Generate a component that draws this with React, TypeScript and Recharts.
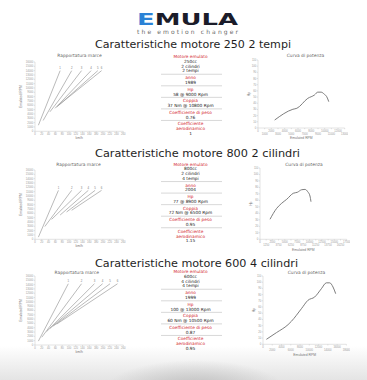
import { Line, LineChart, XAxis, YAxis } from 'recharts'

// shared axes
const gearNames = ['1', '2', '3', '4', '5', '6']
const kmhTicks = [0, 20, 40, 60, 80, 100, 120, 140, 160, 180, 200, 220, 240, 260]
const rpmTicks = [0, 1000, 2000, 3000, 4000, 5000, 6000, 7000, 8000, 9000, 10000, 11000, 12000, 13000, 14000, 15000, 16000]
const hpTicks = [0, 10, 20, 30, 40, 50, 60, 70, 80, 90, 100, 110]

// 250 2 tempi
const gearStartKmh250 = [10, 24, 44, 59, 64, 69]
const gearStartRpm250 = [1400, 2500, 4500, 5300, 5600, 6000]
const gearEndKmh250 = [74, 108, 137, 165, 185, 196]
const redline250 = 14000
const curveRpm250 = [2500, 5230, 5830, 7470, 8470, 8960, 9470, 9960, 10310, 10610]
const curveHp250 = [12.9, 30.3, 31.9, 48, 53.4, 58, 58, 54.5, 50.6, 42.6]
const rpmAxis250 = [0, 1000, 2000, 3000, 4000, 5000, 6000, 7000, 8000, 9000, 10000, 11000, 12000, 13000]

// 800 2 cilindri
const gearStartKmh800 = [10, 29, 49, 74, 93, 108]
const gearStartRpm800 = [500, 2950, 4600, 5600, 6300, 6700]
const gearEndKmh800 = [69, 108, 137, 157, 177, 196]
const redline800 = 11300
const curveRpm800 = [2020, 3370, 4380, 5390, 6720, 7530, 8420, 9080, 9630, 10090, 10290]
const curveHp800 = [30.9, 47.8, 55.6, 61.7, 71, 72.5, 76.5, 77, 73.5, 66.8, 58]
const rpmAxis800 = [0, 1250, 2500, 3750, 5000, 6250, 7500, 8750, 10000, 11250, 12500, 13750, 15000, 16250, 17500]

// 600 4 cilindri
const gearStartKmh600 = [10, 20, 34, 44, 54, 64]
const gearStartRpm600 = [900, 1800, 3100, 3850, 4400, 4850]
const gearEndKmh600 = [98, 137, 175, 199, 221, 243]
const redline600 = 14200
const curveRpm600 = [730, 2890, 5400, 6130, 8290, 9710, 11160, 12600, 13680, 14390, 15110, 15690]
const curveHp600 = [8, 18.7, 31.6, 37, 57.3, 70.9, 76.2, 89.5, 99, 99, 92.3, 81.5]
const rpmAxis600 = [0, 2000, 4000, 6000, 8000, 10000, 12000, 14000, 16000, 18000]

const info250 = [
  { label: ['Motore emulato'], value: ['250cc', '2 cilindri', '2 tempi'] },
  { label: ['anno'], value: ['1989'] },
  { label: ['Hp'], value: ['58 @ 9000 Rpm'] },
  { label: ['Coppia'], value: ['37 Nm @ 10800 Rpm'] },
  { label: ['Coefficiente di peso'], value: ['0.76'] },
  { label: ['Coefficiente', 'aerodinamico'], value: ['1'] },
]
const info800 = [
  { label: ['Motore emulato'], value: ['800cc', '2 cilindri', '4 tempi'] },
  { label: ['anno'], value: ['2004'] },
  { label: ['Hp'], value: ['77 @ 8900 Rpm'] },
  { label: ['Coppia'], value: ['72 Nm @ 6500 Rpm'] },
  { label: ['Coefficiente di peso'], value: ['0.95'] },
  { label: ['Coefficiente', 'aerodinamico'], value: ['1.15'] },
]
const info600 = [
  { label: ['Motore emulato'], value: ['600cc', '4 cilindri', '4 tempi'] },
  { label: ['anno'], value: ['1999'] },
  { label: ['Hp'], value: ['100 @ 13000 Rpm'] },
  { label: ['Coppia'], value: ['60 Nm @ 10500 Rpm'] },
  { label: ['Coefficiente di peso'], value: ['0.87'] },
  { label: ['Coefficiente', 'aerodinamico'], value: ['0.95'] },
]

const RED = '#d2232a'
const GREY = '#8c8c8c'
const AXIS = '#c4c4c4'
const FONT = '"DejaVu Sans", sans-serif'
const SMALL = '"Liberation Sans", Arial, sans-serif'

type Plot = { x0: number; y0: number; x1: number; y1: number }

const YW = 22
const XH = 16
const PT = 3
const PR = 3

const XTick = (props: any) => {
  const { x, y, payload, index, stagger } = props
  const dy = stagger ? (index % 2 === 0 ? 2.4 : 5.2) : 2.4
  return (
    <text x={x} y={y} dy={dy} textAnchor="middle" fontSize={2.7} fill="#9a9a9a" fontFamily={SMALL}>
      {payload.value}
    </text>
  )
}

const YTick = (props: any) => {
  const { x, y, payload } = props
  return (
    <text x={x} y={y} dy={1} textAnchor="end" fontSize={2.7} fill="#9a9a9a" fontFamily={SMALL}>
      {payload.value}
    </text>
  )
}

const XTitle = (props: any) => {
  const { viewBox, text, dy } = props
  return (
    <text x={viewBox.x + viewBox.width / 2} y={viewBox.y + dy} textAnchor="middle" fontSize={3.4} fill="#777" fontFamily={SMALL}>
      {text}
    </text>
  )
}

const YTitle = (props: any) => {
  const { viewBox, text, dx } = props
  const cx = viewBox.x + dx
  const cy = viewBox.y + viewBox.height / 2
  return (
    <text x={cx} y={cy} transform={`rotate(-90 ${cx} ${cy})`} textAnchor="middle" fontSize={3.4} fill="#777" fontFamily={SMALL}>
      {text}
    </text>
  )
}

function GearChart({ plot, startKmh, startRpm, endKmh, redline }: { plot: Plot; startKmh: number[]; startRpm: number[]; endKmh: number[]; redline: number }) {
  const { x0, y0, x1, y1 } = plot
  return (
    <div style={{ position: 'absolute', left: x0 - YW, top: y0 - PT }}>
      <LineChart width={x1 - x0 + YW + PR} height={y1 - y0 + PT + XH} margin={{ top: PT, right: PR, bottom: 0, left: 0 }}>
        <XAxis type="number" dataKey="kmh" domain={[0, 260]} ticks={kmhTicks} interval={0} height={XH}
          stroke={AXIS} strokeWidth={0.5} tickSize={1.2} tickMargin={0.3} tick={<XTick />}
          label={<XTitle text="km/h" dy={8} />} />
        <YAxis type="number" dataKey="rpm" domain={[0, 16000]} ticks={rpmTicks} interval={0} width={YW}
          stroke={AXIS} strokeWidth={0.5} tickSize={1.2} tickMargin={0.6} tick={<YTick />}
          label={<YTitle text="Emulated RPM" dx={8.7} />} />
        {gearNames.map((g, i) => (
          <Line key={g} data={[{ kmh: startKmh[i], rpm: startRpm[i] }, { kmh: endKmh[i], rpm: redline }]}
            dataKey="rpm" stroke={GREY} strokeWidth={0.6} dot={false} isAnimationActive={false}
            label={(p: any) => p.index === 1
              ? <text key={`l${i}`} x={p.x} y={p.y - 1.4} textAnchor="middle" fontSize={2.8} fill="#777" fontFamily={SMALL}>{g}</text>
              : <g key={`n${i}`} />} />
        ))}
      </LineChart>
    </div>
  )
}

function PowerChart({ plot, rpm, hp, rpmAxis }: { plot: Plot; rpm: number[]; hp: number[]; rpmAxis: number[] }) {
  const { x0, y0, x1, y1 } = plot
  const data = rpm.map((r, i) => ({ rpm: r, hp: hp[i] }))
  return (
    <div style={{ position: 'absolute', left: x0 - YW, top: y0 - PT }}>
      <LineChart width={x1 - x0 + YW + PR} height={y1 - y0 + PT + XH} data={data} margin={{ top: PT, right: PR, bottom: 0, left: 0 }}>
        <XAxis type="number" dataKey="rpm" domain={[0, rpmAxis[rpmAxis.length - 1]]} ticks={rpmAxis} interval={0} height={XH}
          stroke={AXIS} strokeWidth={0.5} tickSize={1.2} tickMargin={0.3} tick={<XTick stagger />}
          label={<XTitle text="Emulated RPM" dy={11.3} />} />
        <YAxis type="number" domain={[0, 110]} ticks={hpTicks} interval={0} width={YW}
          stroke={AXIS} strokeWidth={0.5} tickSize={1.2} tickMargin={0.6} tick={<YTick />}
          label={<YTitle text="Hp" dx={14.4} />} />
        <Line type="monotone" dataKey="hp" stroke="#6e6e6e" strokeWidth={0.9} dot={false} isAnimationActive={false} />
      </LineChart>
    </div>
  )
}

function InfoColumn({ blocks, top }: { blocks: { label: string[]; value: string[] }[]; top: number }) {
  const step = 4.75
  const out: any[] = []
  let y = top
  blocks.forEach((b, bi) => {
    b.label.forEach((t, k) => {
      out.push(<text key={`l${bi}${k}`} x={190.5} y={y} dy="0.35em" textAnchor="middle" fontSize={4.3} fill={RED} fontFamily={FONT}>{t}</text>)
      y += step
    })
    b.value.forEach((t, k) => {
      out.push(<text key={`v${bi}${k}`} x={190.5} y={y} dy="0.35em" textAnchor="middle" fontSize={4.3} fill="#222" fontFamily={FONT}>{t}</text>)
      y += step
    })
    if (bi < blocks.length - 1) {
      const sy = y - step + 3.3
      out.push(<line key={`s${bi}`} x1={161} x2={222} y1={sy} y2={sy} stroke="#bdbdbd" strokeWidth={0.6} />)
      y = sy + 3.5
    }
  })
  return <g>{out}</g>
}

export default function App() {
  return (
    <div style={{
      position: 'fixed', left: 0, top: 0, width: 367, height: 380, overflow: 'hidden',
      background: 'radial-gradient(ellipse 90px 30px at 195px 390px, #bcbcbc 0%, rgba(200,200,200,0) 100%), linear-gradient(180deg, #ffffff 0%, #ffffff 91%, #e4e4e4 100%)',
    }}>
      <svg width={367} height={380} style={{ position: 'absolute', left: 0, top: 0 }}>
        <text x={137} y={25} fontSize={16.5} fontWeight="bold" fontFamily={FONT} textLength={101} lengthAdjust="spacingAndGlyphs">
          <tspan fill="#2b82d6">E</tspan><tspan fill="#1b1c2a">MULA</tspan>
        </text>
        <text x={137} y={33.5} fontSize={6} fill="#6b6b6b" fontFamily={FONT} textLength={101} lengthAdjust="spacing">the emotion changer</text>

        <text x={95} y={47.5} fontSize={10.5} fill="#1e1e1e" fontFamily={FONT} textLength={196} lengthAdjust="spacingAndGlyphs">Caratteristiche motore 250 2 tempi</text>
        <text x={95} y={156.5} fontSize={10.5} fill="#1e1e1e" fontFamily={FONT} textLength={205} lengthAdjust="spacingAndGlyphs">Caratteristiche motore 800 2 cilindri</text>
        <text x={95} y={266.5} fontSize={10.5} fill="#1e1e1e" fontFamily={FONT} textLength={203} lengthAdjust="spacingAndGlyphs">Caratteristiche motore 600 4 cilindri</text>

        <text x={79.5} y={55} dy="0.35em" textAnchor="middle" fontSize={4.4} fill="#666" fontFamily={FONT}>Rapportatura marce</text>
        <text x={305.5} y={55} dy="0.35em" textAnchor="middle" fontSize={4.4} fill="#666" fontFamily={FONT}>Curva di potenza</text>
        <text x={78.5} y={164.5} dy="0.35em" textAnchor="middle" fontSize={4.4} fill="#666" fontFamily={FONT}>Rapportatura marce</text>
        <text x={304} y={164.5} dy="0.35em" textAnchor="middle" fontSize={4.4} fill="#666" fontFamily={FONT}>Curva di potenza</text>
        <text x={76.7} y={272} dy="0.35em" textAnchor="middle" fontSize={4.4} fill="#666" fontFamily={FONT}>Rapportatura marce</text>
        <text x={306.5} y={272} dy="0.35em" textAnchor="middle" fontSize={4.4} fill="#666" fontFamily={FONT}>Curva di potenza</text>

        <InfoColumn blocks={info250} top={56.7} />
        <InfoColumn blocks={info800} top={164} />
        <InfoColumn blocks={info600} top={271.7} />
      </svg>

      <GearChart plot={{ x0: 35, y0: 61.7, x1: 123.3, y1: 131 }} startKmh={gearStartKmh250} startRpm={gearStartRpm250} endKmh={gearEndKmh250} redline={redline250} />
      <GearChart plot={{ x0: 35, y0: 170, x1: 123.3, y1: 239.3 }} startKmh={gearStartKmh800} startRpm={gearStartRpm800} endKmh={gearEndKmh800} redline={redline800} />
      <GearChart plot={{ x0: 35, y0: 276, x1: 123.3, y1: 345 }} startKmh={gearStartKmh600} startRpm={gearStartRpm600} endKmh={gearEndKmh600} redline={redline600} />

      <PowerChart plot={{ x0: 258.3, y0: 60, x1: 345, y1: 128 }} rpm={curveRpm250} hp={curveHp250} rpmAxis={rpmAxis250} />
      <PowerChart plot={{ x0: 260, y0: 168, x1: 346.7, y1: 239.3 }} rpm={curveRpm800} hp={curveHp800} rpmAxis={rpmAxis800} />
      <PowerChart plot={{ x0: 263.3, y0: 276, x1: 346.7, y1: 344.3 }} rpm={curveRpm600} hp={curveHp600} rpmAxis={rpmAxis600} />
    </div>
  )
}
